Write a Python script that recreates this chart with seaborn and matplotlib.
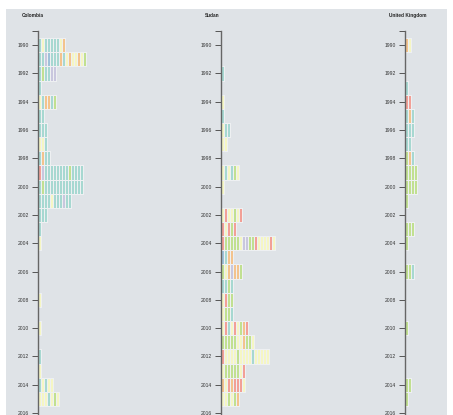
import numpy as np
import pandas as pd
import seaborn as sns
import matplotlib.pyplot as plt
from matplotlib.colors import ListedColormap, to_rgb, to_rgba
from matplotlib.patches import Rectangle

plt.rcParams['font.family'] = ['Liberation Sans', 'DejaVu Sans']

years = list(range(1990, 2016))
countries = ["Colombia", "Sudan", "United Kingdom"]

# One letter per event, left to right along each year's row
# T teal, Y yellow, P purple, R red, B blue, O orange, G green
colombia = ["TYTTTTTYO", "TTPBTTTOTYOYYOYG", "TGTTPP", "T", "YTOOTG", "TT",
            "TTT", "YYT", "TOTT", "RPTTTTTTTTGTTTT", "TGTTTTTTTTTTTTT",
            "TTTTYTTTPTT", "TTT", "T", "Y", "", "", "", "Y", "", "Y", "",
            "T", "Y", "TYTYY", "YYYTYGY"]
sudan = ["", "", "T", "", "Y", "T", "YTT", "YY", "", "YTYTGY", "Y", "",
         "YRYYGYR", "RYRGR", "RGGGGGYPPGGRYYYYRY", "BTOO", "GYOPOOG", "TTGT",
         "YRGG", "YGGT", "YRTYRYGOR", "GGGGGYYOGGY", "RYYYYGYYYYTYYYYY",
         "YGGGGGYR", "OYRORRRY", "YYGYGO"]
uk = ["OY", "", "", "T", "RR", "TOT", "TTT", "TT", "GOT", "GGGG", "GGGG", "G",
      "", "GGG", "G", "", "GGT", "", "", "", "G", "", "", "", "GG", "G"]

codes = ["T", "Y", "P", "R", "B", "O", "G"]

# Set3 colours drawn at partial opacity over the panel background
bg = "#dfe3e7"
set3 = sns.color_palette("Set3", 7)
bg_rgb = np.array(to_rgb(bg))
colors = [tuple(0.68 * np.array(c) + 0.32 * bg_rgb) for c in set3]
cmap = ListedColormap(colors)
edge = to_rgba("#eef0f2")

W, H = 453, 415
fig = plt.figure(figsize=(W / 100, H / 100), dpi=100, facecolor="white")
fig.patches.append(Rectangle((6 / W, 0), 441 / W, 1 - 9 / H,
                             transform=fig.transFigure, facecolor=bg,
                             edgecolor="none", zorder=-10))

ncols = 20
px_per_year = 14.15
top_px = 31
n_rows_view = 28  # 1989.5 .. 2017.5
axis_x = [38, 221, 405]

for name, rows, x0 in zip(countries, [colombia, sudan, uk], axis_x):
    grid = np.full((len(years), ncols), np.nan)
    for i, row in enumerate(rows):
        for j, c in enumerate(row):
            grid[i, j] = codes.index(c)
    df = pd.DataFrame(grid, index=years)

    h_px = n_rows_view * px_per_year
    ax = fig.add_axes([x0 / W, 1 - (top_px + h_px) / H, ncols * 3 / W, h_px / H])
    ax.set_facecolor("none")
    sns.heatmap(df, ax=ax, cmap=cmap, vmin=-0.5, vmax=6.5, cbar=False,
                linewidths=0.4, linecolor="#eef0f2",
                xticklabels=False, yticklabels=False)

    # only outline the cells that hold an event
    mesh = ax.collections[0]
    filled = ~np.isnan(grid.ravel())
    mesh.set_edgecolor([edge if f else (0, 0, 0, 0) for f in filled])

    ax.set_xlim(0, ncols)
    ax.set_ylim(27.5, -0.5)
    tick_years = list(range(1990, 2017, 2))
    ax.set_yticks([y - 1990 + 0.5 for y in tick_years])
    ax.set_yticklabels([str(y) for y in tick_years])
    ax.set_yticks([-0.5], minor=True)
    ax.tick_params(axis="y", which="both", left=True, length=4.3, width=0.7,
                   color="#555555", pad=2.2, labelsize=3.6, labelcolor="#333333")
    ax.tick_params(axis="x", bottom=False)
    ax.set_xlabel(None)
    ax.set_ylabel(None)
    for s in ["top", "right", "bottom"]:
        ax.spines[s].set_visible(False)
    ax.spines["left"].set_visible(True)
    ax.spines["left"].set_color("#666666")
    ax.spines["left"].set_linewidth(1.0)

    fig.text((x0 - 16) / W, 1 - 15.5 / H, name, ha="left", va="center",
             fontsize=3.4, fontweight="bold", color="#222222")

fig.savefig("out.png", dpi=100, facecolor="white")
